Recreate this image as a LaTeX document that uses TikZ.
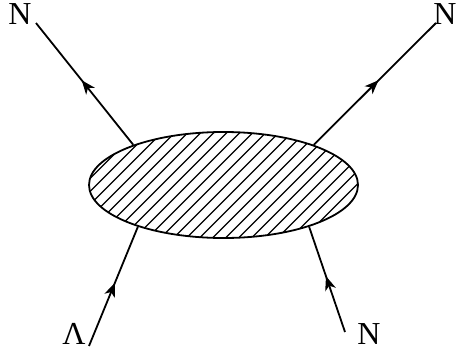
\documentclass[tikz,border=0pt]{standalone}
\usepackage{fontspec}
\setmainfont{Liberation Serif}
\usetikzlibrary{shapes.geometric, decorations.markings, arrows.meta}

\begin{document}
\begin{tikzpicture}[
   x=1pt, y=-1pt,
   blob/.style={ellipse, draw=black, line width=1.8, inner sep=0,
                minimum width=269, minimum height=106,
                path picture={
                  \foreach \s in {-400,-387,...,400} {
                    \draw[line width=1.1] ([xshift=\s]path picture bounding box.center)
                      ++(-70,70) -- ++(140,-140);
                  }
                }},
   particle/.style={line width=1.8, decoration={markings,
                    mark=at position 0.53 with {\arrow{Stealth[length=14, width=11, inset=4]}}},
                    postaction={decorate}},
   lbl/.style={inner sep=0, font=\fontsize{32}{32}\selectfont}
  ]

  \useasboundingbox (0,0) rectangle (458,351);

  \node (blob) at (223.5,185) [blob] {};

  \node (nw) at (20,14) [lbl] {N};
  \node (ne) at (445,14) [lbl] {N};
  \node (sw) at (74,333.5) [lbl] {Λ};
  \node (se) at (369,334.5) [lbl] {N};

  % free ends next to the labels
  \coordinate (nwend) at (36,23);
  \coordinate (neend) at (436,23);
  \coordinate (swend) at (89,346);
  \coordinate (seend) at (345,332);

  \foreach \B/\E in {blob.156/nwend, blob.24/neend, swend/blob.206, seend/blob.334} {
    \draw[particle] (\B) -- (\E);
  }

\end{tikzpicture}
\end{document}
